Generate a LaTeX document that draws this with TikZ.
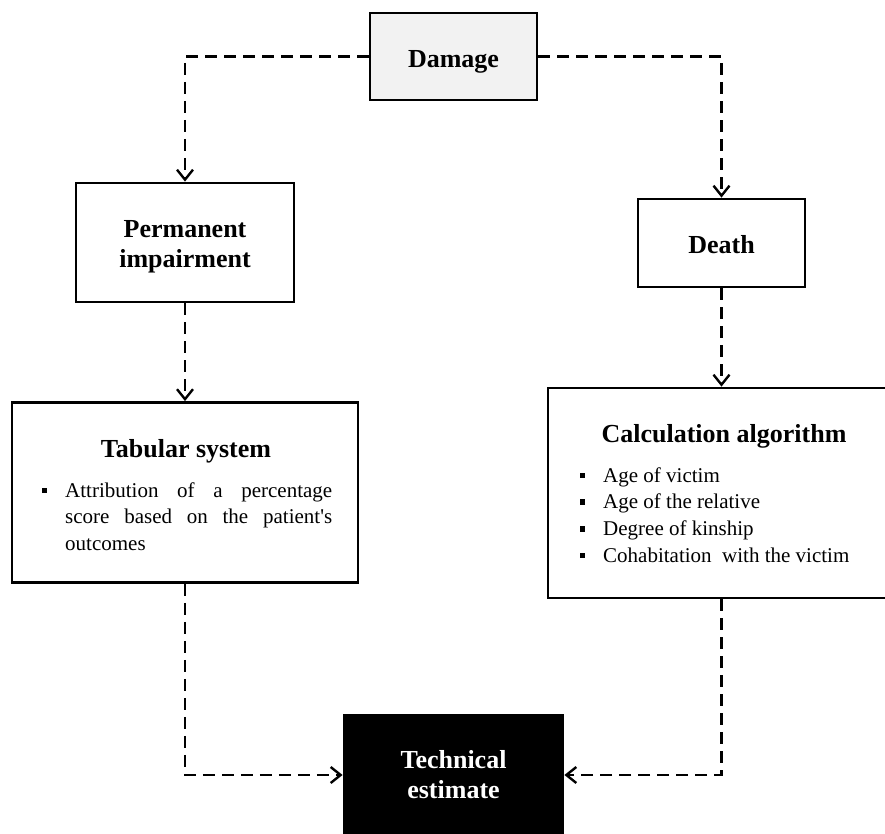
\documentclass[tikz,border=0pt]{standalone}
\usepackage{fontspec}
\setmainfont{Liberation Serif}
\usetikzlibrary{arrows.meta}
\definecolor{dmgfill}{HTML}{F2F2F2}
\newcommand\bul{\leavevmode\llap{\raisebox{4pt}{\rule{5.5pt}{5.5pt}}\hspace{18pt}}}
\begin{document}
\begin{tikzpicture}[x=1pt,y=-1pt,
  box/.style={draw=black, line width=2.8pt, inner sep=0pt},
  boxtext/.style={inner sep=0pt, align=center, font=\fontsize{26}{30}\selectfont\bfseries},
  listtext/.style={inner sep=0pt, font=\fontsize{21}{26.8}\selectfont},
  conn/.style={line width=2.8pt, dash pattern=on 12pt off 7pt,
    -{Straight Barb[length=10pt,width=16pt,line width=2.4pt]}},
]
\useasboundingbox (0,0) rectangle (885,833);

\node[box, fill=dmgfill, minimum width=167pt, minimum height=87pt] (dmg) at (453.5,56.5) {};
\node[box, minimum width=218pt, minimum height=119pt] (perm) at (185,242.5) {};
\node[box, minimum width=167pt, minimum height=88pt] (death) at (721.5,243) {};
\node[box, minimum width=346pt, minimum height=180pt] (tab) at (185,492.5) {};
\node[box, minimum width=340pt, minimum height=210pt] (calc) at (718,493) {};
\node[box, fill=black, minimum width=219pt, minimum height=120pt] (tech) at (453.5,775) {};

\node[boxtext, anchor=base] (dmgtext) at (453.5,67) {Damage};
\node[boxtext] (permtext) at (185,246.5) {Permanent\\impairment};
\node[boxtext, anchor=base] (deathtext) at (721.5,253) {Death};
\node[boxtext, text=white] (techtext) at (453.5,775) {Technical\\estimate};

\node[boxtext, anchor=base] (tabtitle) at (186,457) {Tabular system};
\node[boxtext, anchor=base] (calctitle) at (724,442) {Calculation algorithm};

\node[listtext, anchor=base west] (tablist) at (65,497)
  {\parbox[t]{267pt}{\bul Attribution of a percentage\linebreak score based on the patient\textquotesingle s\linebreak outcomes}};
\node[listtext, anchor=base west] (calclist) at (603,482)
  {\parbox[t]{270pt}{\bul Age of victim\\ \bul Age of the relative\\ \bul Degree of kinship\\ \bul Cohabitation\ \ with the victim}};

\draw[conn] (dmg.west) -| (perm.north);
\draw[conn] (dmg.east) -| (death.north);
\draw[conn] (perm.south) -- (tab.north);
\draw[conn] (death.south) -- (death.south |- calc.north);
\draw[conn] (tab.south) |- (tech.west);
\draw[conn] (calc.south -| death.south) |- (tech.east);
\end{tikzpicture}
\end{document}
